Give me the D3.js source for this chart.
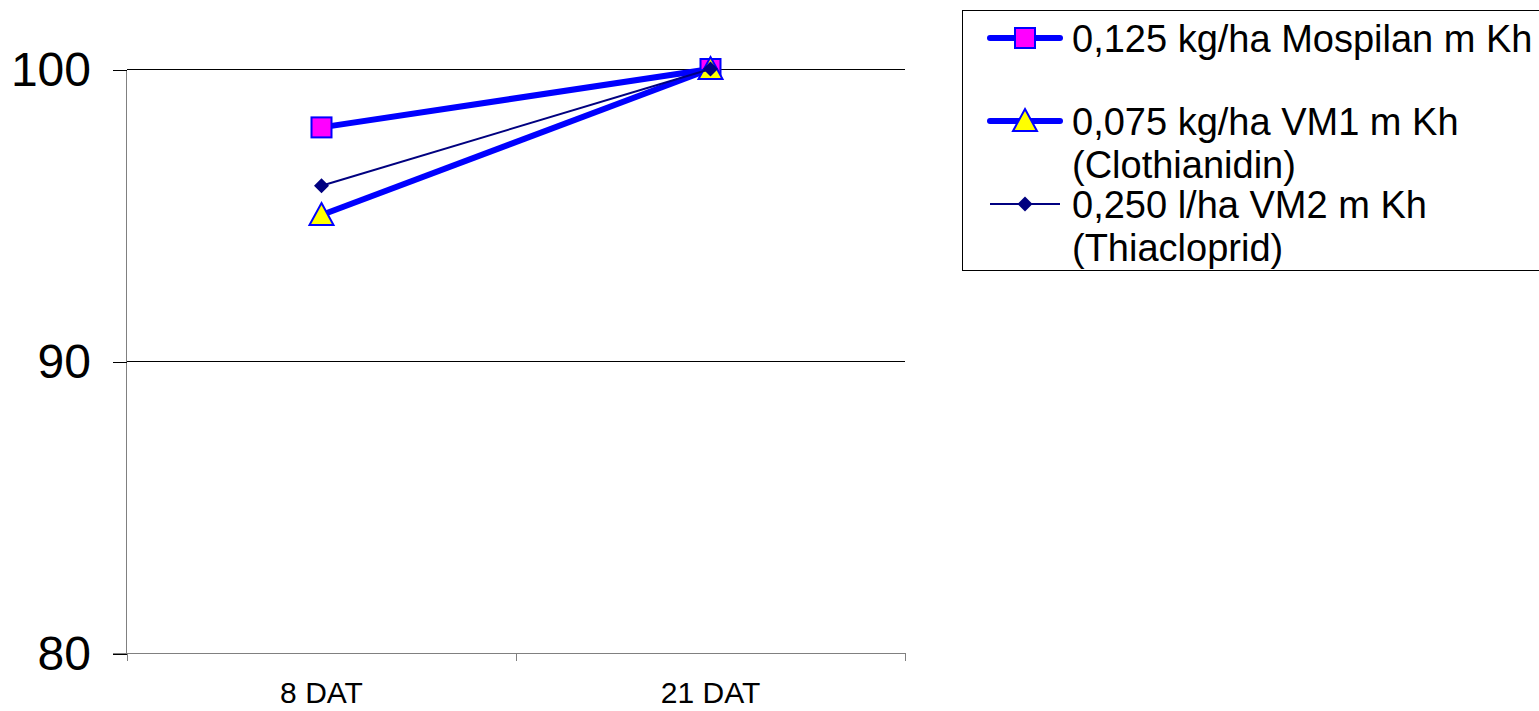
<!DOCTYPE html>
<html><head><meta charset="utf-8">
<script src="https://cdn.jsdelivr.net/npm/d3@7"></script>
<style>body{margin:0;background:#fff;}svg{display:block;font-family:"Liberation Sans",Arial,sans-serif;}</style>
</head><body>
<svg id="c" width="1539" height="711"></svg>
<script>
const categories = ["8 DAT", "21 DAT"];
const seriesNames = ["0,125 kg/ha Mospilan m Kh", "0,075 kg/ha VM1 m Kh", "0,250 l/ha VM2 m Kh"];
const legendLines = [["0,125 kg/ha Mospilan m Kh"], ["0,075 kg/ha VM1 m Kh", "(Clothianidin)"], ["0,250 l/ha VM2 m Kh", "(Thiacloprid)"]];
const mospilan = [98, 100];
const vm1 = [95, 100];
const vm2 = [96, 100];
const yTicks = [80, 90, 100];

const series = [
  {name: seriesNames[0], values: mospilan, line: "#0000FF", lw: 6, shape: "square", fill: "#FF00FF", stroke: "#0000FF"},
  {name: seriesNames[1], values: vm1, line: "#0000FF", lw: 6, shape: "triangle", fill: "#FFFF00", stroke: "#0000FF"},
  {name: seriesNames[2], values: vm2, line: "#000080", lw: 2, shape: "diamond", fill: "#000080", stroke: "#000080"}
];

const svg = d3.select("#c");
const x = d3.scaleBand().domain(categories).range([127, 905]).padding(0);
const y = d3.scaleLinear().domain([80, 100]).range([653, 69]);

// gridlines
svg.append("g").selectAll("line").data(yTicks.filter(t => t > 80)).join("line")
  .attr("x1", 127).attr("x2", 905).attr("y1", d => y(d) + 0.5).attr("y2", d => y(d) + 0.5)
  .attr("stroke", "#000").attr("stroke-width", 1).attr("shape-rendering", "crispEdges");

// y axis
const yAxis = svg.append("g").attr("transform", "translate(127,0.5)")
  .call(d3.axisLeft(y).tickValues(yTicks).tickSize(14).tickPadding(22).tickFormat(d3.format("d")));
yAxis.select(".domain").attr("stroke", "#808080").attr("d", `M-0.5,${y(100)}V${y(80)}`).attr("shape-rendering", "crispEdges");
yAxis.selectAll(".tick line").attr("stroke", "#000").attr("shape-rendering", "crispEdges");
yAxis.selectAll(".tick text").attr("font-size", 48).attr("fill", "#000").attr("dy", "0.34em").attr("font-family", "'Liberation Sans',Arial,sans-serif");

// x axis
const xAxis = svg.append("g").attr("transform", `translate(0,${y(80)})`)
  .call(d3.axisBottom(x).tickSize(0).tickPadding(29));
xAxis.select(".domain").attr("stroke", "#808080").attr("d", `M113,0.5H905`).attr("shape-rendering", "crispEdges");
xAxis.selectAll(".tick text").attr("font-size", 30).attr("fill", "#000").attr("font-family", "'Liberation Sans',Arial,sans-serif");
xAxis.append("g").selectAll("line").data(categories.concat(["end"])).join("line")
  .attr("x1", (d, i) => i < categories.length ? x(d) + 0.5 : x.range()[1] + 0.5)
  .attr("x2", (d, i) => i < categories.length ? x(d) + 0.5 : x.range()[1] + 0.5)
  .attr("y1", 0).attr("y2", 8).attr("stroke", "#808080").attr("shape-rendering", "crispEdges");

function marker(g, s, cx, cy) {
  if (s.shape === "square") {
    g.append("rect").attr("x", cx - 10).attr("y", cy - 10).attr("width", 20).attr("height", 20)
      .attr("fill", s.fill).attr("stroke", s.stroke).attr("stroke-width", 2);
  } else if (s.shape === "triangle") {
    const h = 11;
    g.append("path").attr("d", `M${cx},${cy - h - 1}L${cx + h + 1},${cy + h - 1}L${cx - h - 1},${cy + h - 1}Z`)
      .attr("fill", s.fill).attr("stroke", s.stroke).attr("stroke-width", 2);
  } else {
    const h = 7.5;
    g.append("path").attr("d", `M${cx},${cy - h}L${cx + h},${cy}L${cx},${cy + h}L${cx - h},${cy}Z`)
      .attr("fill", s.fill);
  }
}

const line = d3.line().x((d, i) => x(categories[i]) + x.bandwidth() / 2).y(d => y(d));
series.forEach(s => {
  const g = svg.append("g");
  g.append("path").attr("d", line(s.values)).attr("fill", "none").attr("stroke", s.line).attr("stroke-width", s.lw);
  s.values.forEach((v, i) => marker(g, s, x(categories[i]) + x.bandwidth() / 2, y(v)));
});

// legend
const lg = svg.append("g");
lg.append("rect").attr("x", 962.5).attr("y", 10.5).attr("width", 600).attr("height", 260)
  .attr("fill", "#fff").attr("stroke", "#000").attr("stroke-width", 1);
const rowY = [38, 121, 204];
series.forEach((s, i) => {
  const g = lg.append("g");
  g.append("line").attr("x1", 990).attr("x2", 1060).attr("y1", rowY[i]).attr("y2", rowY[i])
    .attr("stroke", s.line).attr("stroke-width", s.lw).attr("stroke-linecap", s.lw > 2 ? "round" : "butt");
  marker(g, s, 1025, rowY[i]);
  legendLines[i].forEach((t, j) => {
    g.append("text").attr("x", 1072).attr("y", rowY[i] + 14 + j * 43).attr("font-size", 38).attr("fill", "#000").text(t);
  });
});
</script>
</body></html>
